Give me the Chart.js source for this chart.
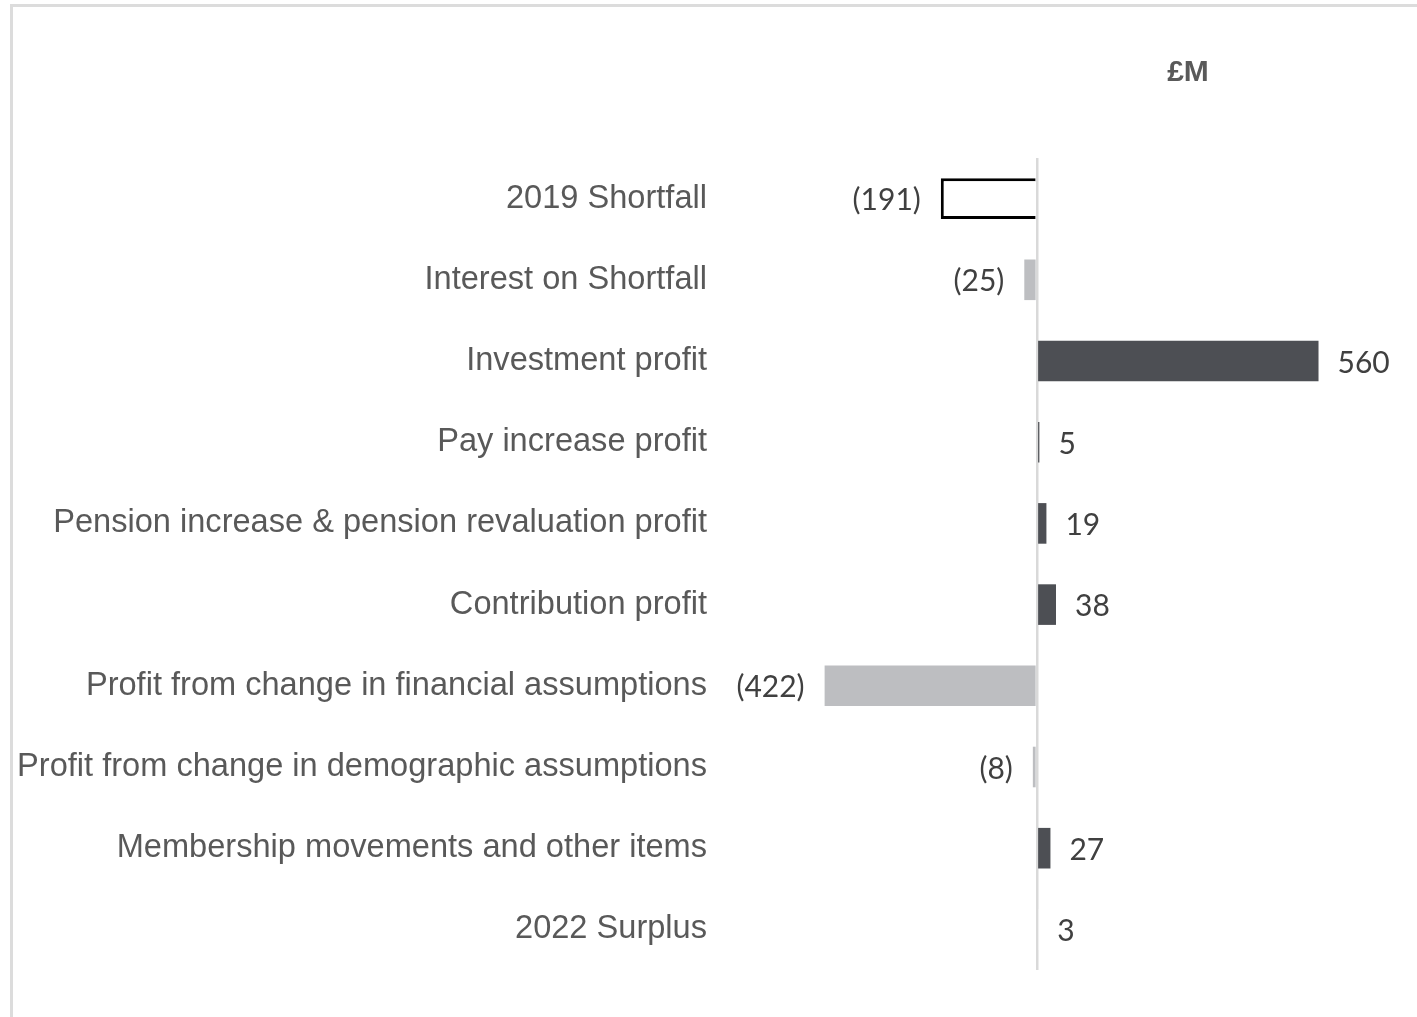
<!DOCTYPE html>
<html>
<head>
<meta charset="utf-8">
<script src="https://cdn.jsdelivr.net/npm/chart.js@4.4.0/dist/chart.umd.min.js"></script>
<style>
  html, body { margin: 0; padding: 0; background: #fff; overflow: hidden; }
  .frame {
    position: absolute; left: 10px; top: 4px; width: 3000px; height: 3000px;
    border-left: 3px solid #dcdcdc; border-top: 3px solid #dcdcdc;
  }
  #chart { position: absolute; left: 0; top: 0; }
</style>
</head>
<body>
<div class="frame"></div>
<canvas id="chart" width="1417" height="1017"></canvas>
<script>
// categories and values (£M)
const categories = [
  '2019 Shortfall',
  'Interest on Shortfall',
  'Investment profit',
  'Pay increase profit',
  'Pension increase & pension revaluation profit',
  'Contribution profit',
  'Profit from change in financial assumptions',
  'Profit from change in demographic assumptions',
  'Membership movements and other items',
  '2022 Surplus'
];
const values = [-191, -25, 560, 5, 19, 38, -422, -8, 27, 3];
const unitLabel = '£M';

const DARK = '#4d4f54';
const LIGHT = '#bdbec1';
const lastIdx = values.length - 1;

// colour for each bar: totals white, gains dark, losses light
function barFill(ctx) {
  const i = ctx.dataIndex;
  if (i === 0 || i === lastIdx) return '#ffffff';
  return values[i] >= 0 ? DARK : LIGHT;
}

// value labels next to each bar end
const valueLabels = {
  id: 'valueLabels',
  afterDatasetsDraw(chart) {
    const ctx = chart.ctx;
    const meta = chart.getDatasetMeta(0);
    ctx.save();
    ctx.font = '30px Lato';
    ctx.fillStyle = '#404040';
    ctx.textBaseline = 'middle';
    meta.data.forEach((bar, i) => {
      const v = values[i];
      if (v < 0) {
        ctx.textAlign = 'right';
        ctx.fillText('(' + Math.abs(v) + ')', bar.x - 20, bar.y + 2);
      } else {
        ctx.textAlign = 'left';
        ctx.fillText(String(v), bar.x + 19, bar.y + 2);
      }
    });
    // unit heading
    ctx.font = 'bold 30px "Liberation Sans"';
    ctx.fillStyle = '#595959';
    ctx.textAlign = 'center';
    ctx.textBaseline = 'alphabetic';
    ctx.fillText(unitLabel, 1188, 81);
    ctx.restore();
  }
};

new Chart(document.getElementById('chart'), {
  type: 'bar',
  data: {
    labels: categories,
    datasets: [{
      data: values,
      backgroundColor: barFill,
      borderColor: '#000000',
      borderWidth: (ctx) => ctx.dataIndex === 0 ? 3 : 0,
      borderSkipped: 'start',
      categoryPercentage: 1,
      barPercentage: 0.5
    }]
  },
  options: {
    indexAxis: 'y',
    responsive: false,
    animation: false,
    layout: { padding: { top: 158, bottom: 47, left: 0, right: 17 } },
    plugins: { legend: { display: false }, tooltip: { enabled: false } },
    scales: {
      x: {
        min: -630,
        max: 722,
        z: 1,
        afterFit(scale) { scale.height = 0; },
        afterBuildTicks(scale) { scale.ticks = [{ value: 0 }]; },
        ticks: { display: false },
        border: { display: false },
        grid: { color: '#d9d9d9', lineWidth: 2.5, drawTicks: false }
      },
      y: {
        afterFit(scale) { scale.width = 720; },
        border: { display: false },
        grid: { display: false, drawTicks: false },
        ticks: {
          autoSkip: false,
          padding: 13,
          color: '#595959',
          font: { family: '"Liberation Sans"', size: 32.6 }
        }
      }
    }
  },
  plugins: [valueLabels]
});
</script>
</body>
</html>
